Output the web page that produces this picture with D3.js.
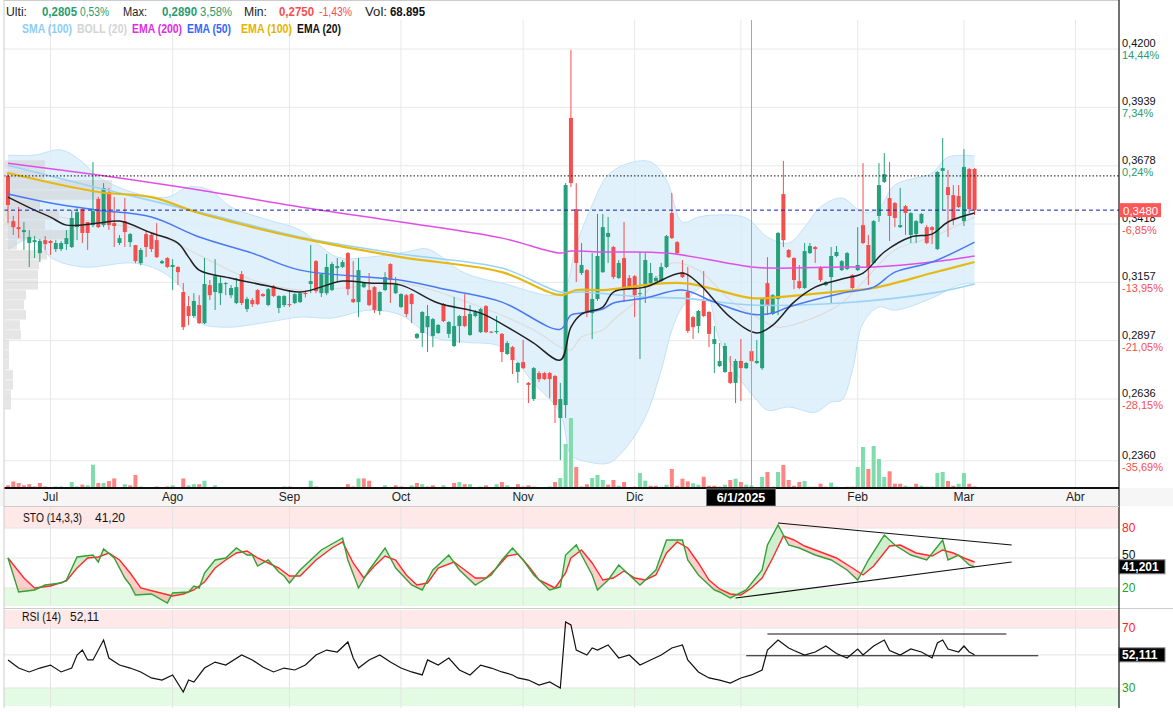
<!DOCTYPE html>
<html><head><meta charset="utf-8">
<script src="https://cdn.jsdelivr.net/npm/d3@7"></script>
<style>body{margin:0;background:#fff}svg{font-family:"Liberation Sans",Arial,sans-serif}</style>
</head><body><svg id="c" width="1173" height="712"></svg>
<script>
// ---------- DATA ----------
const open  = [.3633,.3431,.3404,.3382,.3333,.3337,.3288,.3346,.3342,.3306,.3306,.3328,.3315,.3404,.3485,.3427,.3413,.3530,.3413,.3561,.3422,.3333,.3431,.3337,.3324,.3243,.3373,.3369,.3346,.3243,.3266,.3226,.3226,.3114,.3051,.3007,.3056,.2975,.3145,.3114,.3109,.3150,.3100,.3065,.3194,.3038,.3078,.3123,.3105,.3056,.3141,.3043,.3056,.3060,.3065,.3069,.3110,.3150,.3252,.3109,.3109,.3123,.3221,.3226,.3288,.3083,.3069,.3136,.3123,.3136,.3029,.3123,.3239,.3109,.3047,.3100,.3105,.2909,.2931,.2957,.2918,.2931,.3060,.2927,.2873,.2962,.3007,.2922,.3007,.2935,.3051,.2937,.2935,.2927,.2837,.2868,.2757,.2801,.2708,.2636,.2752,.2752,.2752,.2739,.2551,.2609,.3892,.3485,.3199,.3212,.3020,.3083,.3203,.3360,.3315,.3177,.3266,.3177,.3185,.3105,.3136,.3154,.3163,.3163,.3226,.3467,.3337,.3203,.3114,.3002,.2962,.3074,.3025,.2882,.2783,.2757,.2757,.2708,.2806,.2774,.2850,.2797,.2774,.3154,.3016,.3083,.3552,.3302,.3266,.3163,.3132,.3288,.3315,.3226,.3145,.3181,.3275,.3212,.3217,.3190,.3212,.3413,.3324,.3244,.3454,.3606,.3534,.3512,.3404,.3498,.3369,.3373,.3422,.3404,.3404,.3306,.3655,.3583,.3547,.3543,.3431,.3664,.3664];
const high  = [.3650,.3454,.3494,.3427,.3391,.3364,.3351,.3364,.3346,.3346,.3342,.3391,.3480,.3489,.3489,.3427,.3695,.3539,.3601,.3579,.3539,.3369,.3534,.3378,.3324,.3311,.3391,.3378,.3422,.3257,.3270,.3261,.3230,.3154,.3096,.3109,.3100,.3266,.3168,.3261,.3181,.3159,.3145,.3177,.3208,.3092,.3087,.3127,.3109,.3132,.3145,.3100,.3100,.3123,.3109,.3114,.3120,.3324,.3257,.3199,.3284,.3248,.3266,.3257,.3293,.3252,.3266,.3159,.3199,.3141,.3118,.3203,.3243,.3181,.3109,.3105,.3109,.2931,.3029,.3056,.2998,.2971,.3065,.2984,.3092,.3011,.3105,.3056,.3034,.3043,.3056,.2940,.3007,.2931,.2895,.2873,.2801,.2900,.2712,.2779,.2761,.2757,.2757,.2743,.2708,.3601,.4196,.3601,.3333,.3217,.3288,.3463,.3463,.3449,.3320,.3257,.3427,.3190,.3190,.3293,.3288,.3244,.3185,.3244,.3369,.3557,.3342,.3257,.3226,.3007,.3034,.3208,.3029,.2962,.2886,.2886,.2828,.2815,.2904,.2801,.2890,.2900,.3087,.3270,.3105,.3382,.3700,.3306,.3270,.3235,.3333,.3333,.3320,.3230,.3163,.3315,.3320,.3257,.3293,.3194,.3404,.3690,.3369,.3436,.3690,.3735,.3695,.3516,.3579,.3503,.3471,.3436,.3467,.3413,.3409,.3655,.3802,.3659,.3592,.3592,.3753,.3668,.3668];
const low   = [.3422,.3369,.3355,.3302,.3226,.3266,.3248,.3302,.3279,.3293,.3297,.3302,.3311,.3346,.3333,.3302,.3404,.3400,.3404,.3391,.3315,.3324,.3315,.3315,.3243,.3234,.3270,.3293,.3266,.3239,.3221,.3123,.3145,.2944,.2966,.2998,.2971,.2971,.3078,.3034,.3056,.3100,.3087,.3060,.3056,.3025,.3047,.3056,.3092,.3051,.3092,.3020,.3047,.3047,.3060,.3065,.3090,.3109,.3109,.3092,.3100,.3118,.3159,.3221,.3100,.3065,.3002,.3132,.3051,.3020,.3011,.3118,.3065,.3105,.3043,.3002,.2975,.2904,.2868,.2846,.2868,.2927,.2980,.2909,.2868,.2886,.2957,.2918,.3000,.2931,.2931,.2930,.2927,.2801,.2833,.2748,.2708,.2770,.2618,.2627,.2712,.2721,.2640,.2529,.2363,.2551,.3583,.3159,.3190,.3002,.2904,.3074,.3199,.3244,.3172,.3172,.3069,.3123,.3002,.2815,.3065,.3150,.3159,.3159,.3221,.3351,.3284,.3177,.2931,.2904,.2931,.3002,.2868,.2752,.2779,.2752,.2703,.2618,.2627,.2770,.2750,.2792,.2766,.3011,.3011,.3011,.3315,.3266,.3127,.3127,.3127,.3284,.3244,.3159,.3141,.3065,.3270,.3208,.3212,.3127,.3208,.3328,.3145,.3239,.3427,.3601,.3342,.3404,.3400,.3369,.3333,.3333,.3418,.3328,.3328,.3302,.3481,.3360,.3413,.3489,.3409,.3467,.3458];
const close = [.3503,.3404,.3395,.3391,.3360,.3346,.3342,.3328,.3333,.3333,.3333,.3355,.3445,.3471,.3378,.3378,.3476,.3404,.3579,.3413,.3409,.3355,.3382,.3373,.3252,.3302,.3315,.3306,.3270,.3252,.3226,.3235,.3203,.2957,.3007,.3074,.2975,.3150,.3100,.3185,.3154,.3154,.3132,.3136,.3065,.3083,.3060,.3060,.3096,.3127,.3096,.3096,.3096,.3056,.3105,.3109,.3105,.3163,.3118,.3194,.3226,.3239,.3230,.3248,.3127,.3069,.3212,.3154,.3056,.3034,.3114,.3181,.3168,.3145,.3105,.3016,.3060,.2927,.3025,.3007,.2993,.2967,.2984,.2980,.2962,.3007,.2962,.3016,.3025,.3038,.2935,.2933,.2940,.2846,.2886,.2810,.2797,.2774,.2699,.2774,.2725,.2725,.2725,.2609,.2636,.3592,.3601,.3244,.3235,.3020,.3083,.3275,.3404,.3378,.3181,.3244,.3123,.3127,.3100,.3109,.3257,.3199,.3177,.3226,.3364,.3355,.3288,.3181,.2940,.2957,.3029,.3007,.2927,.2904,.2806,.2873,.2708,.2806,.2774,.2797,.2805,.2806,.3083,.3056,.3100,.3378,.3346,.3270,.3168,.3132,.3297,.3320,.3306,.3168,.3159,.3275,.3293,.3252,.3288,.3132,.3235,.3333,.3221,.3431,.3592,.3641,.3454,.3445,.3413,.3467,.3467,.3431,.3463,.3333,.3391,.3650,.3668,.3547,.3436,.3494,.3673,.3485,.3480];
// volume, thousands of shares
const volume = [74,179,138,74,105,41,138,41,14,41,41,14,165,41,94,74,641,138,138,190,264,14,105,74,358,41,14,14,41,14,41,74,14,264,74,105,105,201,14,74,8,8,8,8,8,8,8,8,8,8,8,8,41,41,8,8,8,201,41,8,8,8,8,8,105,41,264,264,201,8,8,74,8,74,41,8,74,138,105,41,74,8,74,8,138,165,105,105,8,41,74,8,105,165,74,8,105,41,74,41,8,8,41,165,275,1210,1925,578,41,105,275,358,220,91,220,63,165,14,36,413,201,63,63,36,91,523,63,256,184,129,91,311,63,63,36,91,220,256,165,91,69,14,303,440,36,440,633,220,63,165,193,36,36,118,36,146,36,14,36,36,578,1128,523,1155,798,303,459,118,118,63,36,118,63,36,36,413,440,193,63,118,413,118,41];
// volume profile (left histogram): price level centre and volume (thousands)
const vpPrice = [.3681,.3637,.3592,.3547,.3503,.3458,.3413,.3369,.3324,.3279,.3235,.3190,.3145,.3100,.3056,.3011,.2966,.2922,.2877,.2832,.2788,.2743,.2698,.2653,.2609];
const vpVol   = [400,400,1070,1070,350,540,400,700,120,420,340,330,330,210,190,210,150,160,40,40,40,80,80,60,60];
// indicator lines sampled at candle index: [index, value]
const sma100 = [[0,.3681],[17,.3579],[36,.3471],[55,.3360],[74,.3284],[93,.3221],[104,.3114],[108,.3114],[120,.3091],[127,.3087],[140,.3056],[157,.3065],[174,.3109],[182,.3150]];
const ema200 = [[0,.3690],[17,.3637],[36,.3570],[55,.3494],[74,.3427],[93,.3355],[104,.3288],[106,.3297],[112,.3293],[124,.3288],[140,.3226],[144,.3221],[157,.3226],[163,.3226],[174,.3248],[182,.3275]];
const ema100 = [[0,.3646],[17,.3561],[27,.3538],[36,.3467],[46,.3404],[55,.3355],[74,.3270],[93,.3203],[104,.3100],[107,.3123],[112,.3123],[127,.3154],[140,.3087],[145,.3091],[157,.3118],[163,.3132],[174,.3199],[182,.3248]];
const ema50  = [[0,.3552],[8,.3512],[17,.3480],[27,.3449],[36,.3360],[46,.3288],[55,.3212],[74,.3167],[83,.3123],[93,.3069],[104,.2948],[106,.3011],[108,.3020],[112,.3038],[114,.3065],[120,.3087],[127,.3123],[133,.3069],[140,.3015],[144,.3020],[147,.3047],[157,.3109],[163,.3136],[167,.3203],[174,.3248],[182,.3337]];
const ema20  = [[0,.3538],[5,.3480],[8,.3449],[11,.3413],[17,.3422],[21,.3431],[27,.3378],[32,.3333],[34,.3270],[36,.3212],[42,.3176],[49,.3141],[55,.3114],[63,.3163],[68,.3154],[74,.3145],[81,.3065],[89,.3020],[95,.2944],[99,.2886],[104,.2810],[106,.2957],[108,.3015],[112,.3047],[114,.3114],[120,.3136],[127,.3199],[130,.3154],[136,.3002],[141,.2931],[144,.2966],[148,.3069],[152,.3136],[157,.3172],[161,.3199],[165,.3293],[170,.3360],[174,.3373],[177,.3427],[182,.3467]];
const bollUp = [[0,.3726],[5,.3726],[10,.3749],[14,.3695],[17,.3628],[24,.3556],[30,.3538],[34,.3583],[38,.3570],[42,.3494],[49,.3436],[55,.3391],[62,.3270],[68,.3270],[75,.3293],[79,.3306],[86,.3199],[93,.3154],[104,.3109],[107,.3324],[110,.3503],[113,.3637],[117,.3690],[121,.3695],[124,.3614],[127,.3427],[130,.3449],[133,.3458],[139,.3445],[143,.3360],[147,.3333],[150,.3404],[153,.3494],[157,.3534],[161,.3471],[164,.3489],[167,.3592],[174,.3646],[177,.3717],[182,.3722]];
const bollLo = [[0,.3302],[5,.3360],[8,.3270],[14,.3226],[24,.3243],[30,.3190],[34,.3091],[36,.2980],[41,.2957],[49,.2980],[55,.3002],[61,.2998],[68,.3033],[74,.3011],[80,.2913],[86,.2890],[93,.2868],[99,.2707],[104,.2573],[106,.2385],[108,.2363],[113,.2349],[116,.2408],[120,.2555],[123,.2765],[125,.2944],[127,.3047],[131,.3136],[134,.2899],[138,.2720],[141,.2631],[143,.2586],[147,.2600],[152,.2577],[155,.2622],[157,.2631],[159,.2765],[161,.2975],[164,.3047],[167,.3033],[174,.3087],[179,.3145],[182,.3154]];
const bollMid = [[0,.3547],[8,.3458],[17,.3427],[27,.3382],[36,.3279],[46,.3168],[55,.3123],[63,.3132],[74,.3154],[89,.3047],[99,.2944],[104,.2868],[106,.2855],[108,.2913],[112,.2944],[114,.2989],[120,.3109],[125,.3243],[130,.3212],[136,.3078],[141,.3002],[145,.2957],[152,.3002],[157,.3065],[161,.3159],[167,.3302],[174,.3360],[182,.3449]];
// stochastic %K and %D, RSI
const stoK = [[0,50],[2,16],[5,18],[7,23],[10,25],[11,28],[13,51],[16,53],[17,46],[18,59],[20,50],[22,30],[23,23],[24,13],[27,14],[30,5],[31,15],[34,16],[35,22],[36,20],[37,35],[39,48],[41,50],[43,60],[45,53],[46,53],[47,42],[49,48],[51,36],[52,32],[53,25],[55,38],[59,58],[63,70],[64,48],[66,20],[68,38],[71,60],[73,40],[76,23],[78,18],[80,38],[83,53],[85,38],[88,23],[91,33],[93,48],[95,60],[97,48],[99,33],[102,18],[104,21],[105,53],[107,63],[108,53],[110,33],[111,18],[113,28],[115,43],[119,23],[122,38],[124,68],[127,68],[128,48],[130,33],[133,18],[134,16],[136,10],[139,18],[142,38],[143,63],[145,83],[147,63],[149,60],[152,53],[155,48],[158,38],[160,28],[162,48],[165,73],[167,63],[170,53],[173,48],[176,68],[177,48],[179,53],[181,43],[182,41.2]];
const stoD = [[0,50],[3,30],[5,20],[8,22],[11,27],[13,40],[15,50],[17,51],[19,55],[21,48],[23,35],[25,20],[28,16],[31,12],[33,14],[35,18],[37,26],[39,40],[41,48],[43,55],[45,57],[47,50],[49,45],[51,40],[53,32],[55,32],[58,48],[61,60],[63,66],[65,45],[67,30],[69,42],[71,52],[73,48],[75,33],[77,23],[79,25],[81,40],[84,46],[86,38],[88,30],[90,30],[92,40],[94,52],[96,54],[98,42],[100,28],[103,20],[105,35],[106,50],[108,58],[110,45],[112,28],[114,30],[116,37],[118,30],[120,28],[122,33],[124,55],[126,66],[128,60],[130,45],[132,28],[134,19],[136,14],[138,13],[140,20],[142,30],[144,50],[146,72],[148,68],[150,62],[153,56],[156,50],[159,40],[161,33],[163,42],[166,62],[168,63],[171,55],[174,52],[176,58],[178,55],[180,50],[182,46]];
const rsi = [[0,48.7],[2,43.3],[4,40.7],[6,43.3],[8,45.3],[10,40.7],[12,43.3],[13,52],[14,55.3],[15,48.7],[16,48.7],[18,62],[19,50],[21,45.3],[23,43.3],[25,40.7],[27,36.7],[29,35.3],[31,38.7],[33,27.3],[34,35.3],[35,34],[37,43.3],[39,47.3],[41,45.3],[44,52],[46,48.7],[48,44],[50,40.7],[52,43.3],[54,42],[56,45.3],[58,52],[60,55.3],[62,54],[64,60.7],[65,50],[66,43.3],[68,48.7],[70,52],[72,47.3],[74,43.3],[76,40.7],[78,38.7],[79,48.7],[81,45.3],[83,50],[85,42],[87,38.7],[89,45.3],[91,43.3],[93,40.7],[95,38.7],[96,36.7],[98,35.3],[100,32],[102,34],[104,30],[105,74],[106,72],[107,55.3],[109,52],[110,56.7],[111,55.3],[113,58.7],[115,50],[117,52],[119,45.3],[121,48.7],[123,52],[125,56.7],[127,58.7],[128,48.7],[130,40.7],[132,36.7],[134,35.3],[136,33.3],[138,36.7],[140,38.7],[142,42],[143,55.3],[145,62],[147,56.7],[148,55],[150,52],[152,54],[154,58],[156,53],[158,50],[160,56],[161,52],[163,58],[165,62],[166,55],[168,52],[170,56],[172,54],[174,50],[175,60],[176,62],[177,56],[179,54],[180,58],[181,54],[182,52.11]];
// axes / labels
const monthIdx = [8,31,53,74,97,118,138,160,180,201];
const monthLbl = ["Jul","Ago","Sep","Oct","Nov","Dic","Ene","Feb","Mar","Abr"];
const priceTicks = [0.4200,0.3939,0.3678,0.3418,0.3157,0.2897,0.2636,0.2360];
const pctTicks = ["14,44%","7,34%","0,24%","-6,85%","-13,95%","-21,05%","-28,15%","-35,69%"];
const lastPrice = 0.3480, refPrice = 0.3633, crossIdx = 140, crossLbl = "6/1/2025";
const stoLevels = [80,50,20], rsiLevels = [70,30];
const stoLast = "41,201", rsiLast = "52,111";
const stoTrend = [[[145,85],[189,63]],[[137,10],[189,46]]];
const rsiTrend = [[[143,66],[188,66]],[[139,51.5],[194,51.5]]];
const header = ["Ulti:","0,2805","0,53%","Max:","0,2890","3,58%","Min:","0,2750","-1,43%","Vol:","68.895"];
const legend = ["SMA (100)","BOLL (20)","EMA (200)","EMA (50)","EMA (100)","EMA (20)"];

// ---------- DRAW ----------
const svg = d3.select("#c");
const PL = 4, PR = 1119, MT = 20, MB = 488;
const ST = 507, SB = 606, RT = 610, RB = 708;
const x = d3.scaleLinear().domain([0, 209.2]).range([8, 1119]);
const y = d3.scaleLinear().domain([0.22384, 0.43296]).range([488, 20]);
const yv = d3.scaleLinear().domain([0, 2000]).range([MB, MB - 72.7]);
const xvp = d3.scaleLinear().domain([0, 1000]).range([PL + 1, PL + 101]);
const ys = d3.scaleLinear().domain([0, 100]).range([608, 508]);
const yr = d3.scaleLinear().domain([30, 70]).range([688, 628]);
const GREEN = "#26a07a", RED = "#f44f4f";
const fmt = v => v.toFixed(4).replace(".", ",");

const defs = svg.append("defs");
defs.append("clipPath").attr("id", "cm").append("rect").attr("x", PL).attr("y", MT).attr("width", PR - PL).attr("height", MB - MT);
defs.append("clipPath").attr("id", "cs").append("rect").attr("x", PL).attr("y", ST).attr("width", PR - PL).attr("height", SB - ST);
defs.append("clipPath").attr("id", "cr").append("rect").attr("x", PL).attr("y", RT).attr("width", PR - PL).attr("height", RB - RT);

// main grid
const g = svg.append("g");
g.selectAll(".hg").data(priceTicks).join("line").attr("x1", PL).attr("x2", PR)
  .attr("y1", d => y(d)).attr("y2", d => y(d)).attr("stroke", "#e8e8e8");
g.selectAll(".vg").data(monthIdx).join("line").attr("x1", d => x(d)).attr("x2", d => x(d))
  .attr("y1", MT).attr("y2", MB).attr("stroke", "#e8e8e8");

const main = svg.append("g").attr("clip-path", "url(#cm)");
const smooth = d3.line().x(d => x(d[0])).y(d => y(d[1])).curve(d3.curveCatmullRom.alpha(0.5));
// bollinger band
const pu = smooth(bollUp), pl = smooth(bollLo.slice().reverse());
main.append("path").attr("d", pu + "L" + pl.slice(1) + "Z").attr("fill", "#d8edfb").attr("opacity", 0.8);
main.append("path").attr("d", smooth(bollUp)).attr("fill", "none").attr("stroke", "#c3e2f7").attr("stroke-width", 1);
main.append("path").attr("d", smooth(bollLo)).attr("fill", "none").attr("stroke", "#c3e2f7").attr("stroke-width", 1);

// volume profile
main.selectAll(".vp").data(vpPrice).join("rect")
  .attr("x", PL + 1).attr("y", d => y(d + 0.0022)).attr("height", d => y(d - 0.0020) - y(d + 0.0022))
  .attr("width", (d, i) => xvp(vpVol[i]) - xvp(0)).attr("fill", "#cfcfcf").attr("opacity", 0.55);

// volume bars
main.selectAll(".vol").data(volume).join("rect")
  .attr("x", (d, i) => x(i) - 2).attr("width", 4)
  .attr("y", d => yv(d)).attr("height", d => MB - yv(d))
  .attr("fill", (d, i) => (i === 0 ? close[0] >= open[0] : close[i] >= close[i - 1]) ? "#7fdcab" : "#ff8585");

main.append("path").attr("d", smooth(bollMid)).attr("fill", "none").attr("stroke", "#dcdcdc").attr("stroke-width", 1.2);

// candles
const cg = main.append("g");
close.forEach((c, i) => {
  const col = c >= open[i] ? GREEN : RED;
  cg.append("line").attr("x1", x(i)).attr("x2", x(i)).attr("y1", y(high[i])).attr("y2", y(low[i])).attr("stroke", col).attr("stroke-width", 1);
  const t = y(Math.max(open[i], c)), b = y(Math.min(open[i], c));
  cg.append("rect").attr("x", x(i) - 2).attr("width", 4).attr("y", t).attr("height", Math.max(1, b - t)).attr("fill", col);
});

// indicator lines
[[sma100, "#9bd3f7", 1.6], [ema200, "#e04ee6", 1.5], [ema100, "#e5b915", 2.2], [ema50, "#4a78f5", 1.5], [ema20, "#222", 1.5]]
  .forEach(([dat, col, w]) => main.append("path").attr("d", smooth(dat)).attr("fill", "none").attr("stroke", col).attr("stroke-width", w));

// crosshair + reference lines
main.append("line").attr("x1", x(crossIdx)).attr("x2", x(crossIdx)).attr("y1", MT).attr("y2", MB).attr("stroke", "#ff8080").attr("stroke-width", 1);
svg.append("line").attr("x1", PL).attr("x2", PR).attr("y1", y(refPrice)).attr("y2", y(refPrice)).attr("stroke", "#111").attr("stroke-dasharray", "1.5,2");
svg.append("line").attr("x1", PL).attr("x2", PR).attr("y1", y(lastPrice)).attr("y2", y(lastPrice)).attr("stroke", "#1122aa").attr("stroke-dasharray", "4,3");

// header
svg.append("rect").attr("x", PL).attr("y", 0).attr("width", PR - PL).attr("height", MT).attr("fill", "#fff");
svg.append("line").attr("x1", PL).attr("x2", PR).attr("y1", 0.5).attr("y2", 0.5).attr("stroke", "#ccc");
const hdrX = [6, 42, 80, 123, 162, 200, 244, 279, 319, 365, 390];
const hdrW = [21, 35, 29, 24, 35, 32, 23, 35, 33, 22, 35];
const hdrC = ["#222", "#2a9d6f", "#2a9d6f", "#222", "#2a9d6f", "#2a9d6f", "#222", "#f45050", "#f45050", "#222", "#111"];
svg.selectAll(".hdr").data(header).join("text").attr("x", (d, i) => hdrX[i]).attr("y", 16).text(d => d)
  .attr("fill", (d, i) => hdrC[i]).attr("font-weight", (d, i) => [1, 4, 7, 10].includes(i) ? 700 : 400)
  .attr("font-size", 12).attr("textLength", (d, i) => hdrW[i]).attr("lengthAdjust", "spacingAndGlyphs");
const legX = [22, 77, 132, 187, 241, 297], legW = [50, 50, 50, 44, 51, 44];
const legC = ["#8ccdf5", "#d4d4d4", "#e02ee0", "#3366ff", "#e6b400", "#111"];
svg.selectAll(".leg").data(legend).join("text").attr("x", (d, i) => legX[i]).attr("y", 33).text(d => d)
  .attr("fill", (d, i) => legC[i]).attr("font-size", 12).attr("font-weight", 700)
  .attr("textLength", (d, i) => legW[i]).attr("lengthAdjust", "spacingAndGlyphs");

// right axis labels (main)
priceTicks.forEach((p, i) => {
  svg.append("text").attr("x", 1122).attr("y", y(p) - 2).text(fmt(p)).attr("font-size", 11).attr("fill", "#111");
  svg.append("text").attr("x", 1122).attr("y", y(p) + 10).text(pctTicks[i]).attr("font-size", 11).attr("fill", pctTicks[i][0] === "-" ? "#f45050" : "#2a9d6f");
});
svg.append("rect").attr("x", 1120).attr("y", y(lastPrice) - 7).attr("width", 41).attr("height", 14).attr("fill", "#ff5757");
svg.append("text").attr("x", 1123).attr("y", y(lastPrice) + 4.5).text(fmt(lastPrice)).attr("font-size", 11.5).attr("fill", "#fff");

// x axis band
svg.append("rect").attr("x", 0).attr("y", MB).attr("width", 1173).attr("height", ST - MB - 1).attr("fill", "#f6f6f6");
svg.append("line").attr("x1", PL).attr("x2", PR).attr("y1", MB).attr("y2", MB).attr("stroke", "#111").attr("stroke-width", 2);
svg.selectAll(".ml").data(monthIdx.filter(d => Math.abs(d - crossIdx) > 6)).join("text")
  .attr("x", d => x(d)).attr("y", 501).attr("text-anchor", "middle")
  .text(d => monthLbl[monthIdx.indexOf(d)]).attr("font-size", 12).attr("fill", "#222");
svg.append("rect").attr("x", x(crossIdx) - 45).attr("y", 489).attr("width", 69).attr("height", 17).attr("fill", "#000").attr("stroke", "#777");
svg.append("text").attr("x", x(crossIdx) - 10.5).attr("y", 502).attr("text-anchor", "middle").text(crossLbl)
  .attr("font-size", 12.5).attr("font-weight", 700).attr("fill", "#fff");

// ---- STO panel ----
svg.append("rect").attr("x", PL).attr("y", ST).attr("width", PR - PL).attr("height", ys(80) - ST).attr("fill", "#ffe8e8");
svg.append("rect").attr("x", PL).attr("y", ys(20)).attr("width", PR - PL).attr("height", SB - ys(20)).attr("fill", "#e3fbe3");
stoLevels.forEach(v => svg.append("line").attr("x1", PL).attr("x2", PR).attr("y1", ys(v)).attr("y2", ys(v)).attr("stroke", "#e4e4e4"));
monthIdx.forEach(d => svg.append("line").attr("x1", x(d)).attr("x2", x(d)).attr("y1", ST).attr("y2", SB).attr("stroke", "#e4e4e4"));
const sg = svg.append("g").attr("clip-path", "url(#cs)");
const ls = d3.line().x(d => x(d[0])).y(d => ys(d[1]));
const between = ls(stoK) + "L" + ls(stoD.slice().reverse()).slice(1) + "Z";
const dPath = ls(stoD);
const d0 = stoD[0][0], d1 = stoD[stoD.length - 1][0];
defs.append("clipPath").attr("id", "aboveD").append("path").attr("d", dPath + `L${x(d1)},${ST - 5}L${x(d0)},${ST - 5}Z`);
defs.append("clipPath").attr("id", "belowD").append("path").attr("d", dPath + `L${x(d1)},${SB + 5}L${x(d0)},${SB + 5}Z`);
sg.append("path").attr("d", between).attr("fill", "#5cc85c").attr("opacity", 0.3).attr("clip-path", "url(#aboveD)");
sg.append("path").attr("d", between).attr("fill", "#ff6060").attr("opacity", 0.3).attr("clip-path", "url(#belowD)");
sg.append("path").attr("d", ls(stoD)).attr("fill", "none").attr("stroke", "#ff2a2a").attr("stroke-width", 1.4);
sg.append("path").attr("d", ls(stoK)).attr("fill", "none").attr("stroke", "#35a035").attr("stroke-width", 1.4);
stoTrend.forEach(t => svg.append("line").attr("x1", x(t[0][0])).attr("y1", ys(t[0][1])).attr("x2", x(t[1][0])).attr("y2", ys(t[1][1])).attr("stroke", "#111").attr("stroke-width", 1.2));
svg.append("text").attr("x", 23).attr("y", 522).text("STO (14,3,3)").attr("font-size", 12).attr("fill", "#111")
  .attr("textLength", 59).attr("lengthAdjust", "spacingAndGlyphs");
svg.append("text").attr("x", 95).attr("y", 522).text("41,20").attr("font-size", 12).attr("fill", "#111");
[[80, "#ff2020"], [50, "#111"], [20, "#1e9e1e"]].forEach(([v, c]) => svg.append("text").attr("x", 1122).attr("y", ys(v) + (v === 50 ? 1 : 4)).text(v).attr("font-size", 12).attr("fill", c));
svg.append("rect").attr("x", 1119).attr("y", ys(41.2) - 7).attr("width", 46).attr("height", 14).attr("fill", "#000").attr("stroke", "#888");
svg.append("text").attr("x", 1122).attr("y", ys(41.2) + 4.5).text(stoLast).attr("font-size", 12).attr("font-weight", 700).attr("fill", "#fff");

// ---- RSI panel ----
svg.append("line").attr("x1", PL).attr("x2", 1173).attr("y1", 608.5).attr("y2", 608.5).attr("stroke", "#ccc");
svg.append("rect").attr("x", PL).attr("y", RT).attr("width", PR - PL).attr("height", yr(70) - RT).attr("fill", "#ffe8e8");
svg.append("rect").attr("x", PL).attr("y", yr(30)).attr("width", PR - PL).attr("height", RB - 2 - yr(30)).attr("fill", "#e3fbe3");
[70, 52.11, 30].forEach(v => svg.append("line").attr("x1", PL).attr("x2", PR).attr("y1", yr(v)).attr("y2", yr(v)).attr("stroke", "#e4e4e4"));
monthIdx.forEach(d => svg.append("line").attr("x1", x(d)).attr("x2", x(d)).attr("y1", RT).attr("y2", RB).attr("stroke", "#e4e4e4"));
const rg = svg.append("g").attr("clip-path", "url(#cr)");
const lr = d3.line().x(d => x(d[0])).y(d => yr(d[1]));
rg.append("path").attr("d", lr(rsi)).attr("fill", "none").attr("stroke", "#111").attr("stroke-width", 1.2);
rsiTrend.forEach(t => svg.append("line").attr("x1", x(t[0][0])).attr("y1", yr(t[0][1])).attr("x2", x(t[1][0])).attr("y2", yr(t[1][1])).attr("stroke", "#111").attr("stroke-width", 1.2));
svg.append("text").attr("x", 22).attr("y", 621).text("RSI (14)").attr("font-size", 12).attr("fill", "#111")
  .attr("textLength", 39).attr("lengthAdjust", "spacingAndGlyphs");
svg.append("text").attr("x", 70).attr("y", 621).text("52,11").attr("font-size", 12).attr("fill", "#111");
[[70, "#ff2020"], [30, "#1e9e1e"]].forEach(([v, c]) => svg.append("text").attr("x", 1122).attr("y", yr(v) + 4).text(v).attr("font-size", 12).attr("fill", c));
svg.append("rect").attr("x", 1119).attr("y", yr(52.11) - 7).attr("width", 46).attr("height", 14).attr("fill", "#000").attr("stroke", "#888");
svg.append("text").attr("x", 1122).attr("y", yr(52.11) + 4.5).text(rsiLast).attr("font-size", 12).attr("font-weight", 700).attr("fill", "#fff");

// frames
svg.append("line").attr("x1", PL).attr("x2", PL).attr("y1", 0).attr("y2", RB).attr("stroke", "#ccc");
svg.append("line").attr("x1", PR).attr("x2", PR).attr("y1", 0).attr("y2", RB).attr("stroke", "#111").attr("stroke-width", 1.2);
svg.append("line").attr("x1", PL).attr("x2", PR).attr("y1", ST - 0.5).attr("y2", ST - 0.5).attr("stroke", "#ccc");
</script></body></html>
